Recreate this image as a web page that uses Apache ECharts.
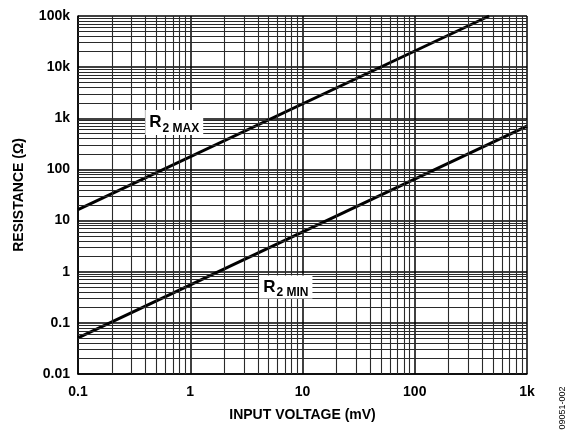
<!DOCTYPE html>
<html>
<head>
<meta charset="utf-8">
<script src="https://cdn.jsdelivr.net/npm/echarts@6/dist/echarts.min.js"></script>
<style>
  html, body { margin: 0; padding: 0; background: #fff; }
  #chart { width: 582px; height: 438px; }
</style>
</head>
<body>
<div id="chart"></div>
<script>
// input voltage (mV) vs resistance (ohm)
var r2MaxPoints = [[0.1, 16.4], [460, 100000]];
var r2MinPoints = [[0.1, 0.051], [1000, 700]];

var xTickLabels = ['0.1', '1', '10', '100', '1k'];
var yTickLabels = ['0.01', '0.1', '1', '10', '100', '1k', '10k', '100k'];

var xDecades = [0.1, 1, 10, 100];
var yDecades = [0.01, 0.1, 1, 10, 100, 1000, 10000];
var minorSteps = [2, 3, 4, 5, 6, 7, 8, 9];

var xMinor = [];
xDecades.forEach(function (d) { minorSteps.forEach(function (m) { xMinor.push(+(d * m).toPrecision(3)); }); });
var yMinor = [];
yDecades.forEach(function (d) { minorSteps.forEach(function (m) { yMinor.push(+(d * m).toPrecision(3)); }); });

var font = 'Liberation Sans, Arial, sans-serif';

function tickLabel(list, first) {
  return function (v) {
    var i = Math.round(Math.log10(v)) - first;
    return list[i] !== undefined ? list[i] : '';
  };
}

var minorLines = xMinor.map(function (v) { return { xAxis: v }; })
  .concat(yMinor.map(function (v) { return { yAxis: v }; }));

// subscript is pushed down with top padding on its token
var labelRich = {
  r: { fontFamily: font, fontWeight: 'bold', fontSize: 17, color: '#000', lineHeight: 17 },
  s: { fontFamily: font, fontWeight: 'bold', fontSize: 12, color: '#000', lineHeight: 12, padding: [12, 0, 0, 1] }
};

var chart = echarts.init(document.getElementById('chart'));
chart.setOption({
  animation: false,
  backgroundColor: '#fff',
  grid: { left: 78, right: 55, top: 16, bottom: 64 },
  xAxis: {
    type: 'log', logBase: 10, min: 0.1, max: 1000, splitNumber: 4,
    name: 'INPUT VOLTAGE (mV)', nameLocation: 'middle', nameGap: 34,
    nameTextStyle: { fontFamily: font, fontWeight: 'bold', fontSize: 14, color: '#000' },
    axisLine: { show: true, lineStyle: { color: '#000', width: 1.5 } },
    axisTick: { show: false },
    axisLabel: { formatter: tickLabel(xTickLabels, -1), fontFamily: font, fontWeight: 'bold', fontSize: 14, color: '#000', margin: 11 },
    splitLine: { show: true, lineStyle: { color: '#000', width: 1.5 } }
  },
  yAxis: {
    type: 'log', logBase: 10, min: 0.01, max: 100000, splitNumber: 7,
    name: 'RESISTANCE (Ω)', nameLocation: 'middle', nameGap: 52, nameRotate: 90,
    nameTextStyle: { fontFamily: font, fontWeight: 'bold', fontSize: 14, color: '#000' },
    axisLine: { show: true, lineStyle: { color: '#000', width: 1.5 } },
    axisTick: { show: false },
    axisLabel: { formatter: tickLabel(yTickLabels, -2), fontFamily: font, fontWeight: 'bold', fontSize: 14, color: '#000', margin: 8 },
    splitLine: { show: true, lineStyle: { color: '#000', width: 1.5 } }
  },
  series: [
    {
      type: 'line', data: [], z: 1, silent: true,
      markLine: {
        silent: true, symbol: 'none', animation: false,
        label: { show: false },
        lineStyle: { color: '#2a2a2a', width: 1.1, type: 'solid' },
        data: minorLines
      }
    },
    {
      name: 'R2 MAX', type: 'line', data: r2MaxPoints, z: 3,
      showSymbol: false, symbol: 'none',
      lineStyle: { color: '#000', width: 3 },
      markPoint: {
        symbol: 'circle', symbolSize: 0,
        data: [{ coord: [0.72, 830] }],
        label: {
          show: true, position: 'inside',
          formatter: '{r|R}{s|2 MAX}',
          backgroundColor: '#fff', padding: [4, 4, 4, 4],
          rich: labelRich
        }
      }
    },
    {
      name: 'R2 MIN', type: 'line', data: r2MinPoints, z: 3,
      showSymbol: false, symbol: 'none',
      lineStyle: { color: '#000', width: 3 },
      markPoint: {
        symbol: 'circle', symbolSize: 0,
        data: [{ coord: [7.1, 0.5] }],
        label: {
          show: true, position: 'inside',
          formatter: '{r|R}{s|2 MIN}',
          backgroundColor: '#fff', padding: [3, 4, 3, 4],
          rich: labelRich
        }
      }
    }
  ],
  graphic: [{
    type: 'text', x: 563, y: 408, rotation: Math.PI / 2,
    style: { text: '09051-002', font: '9px ' + font, fill: '#000', align: 'center', verticalAlign: 'middle' }
  }]
});
</script>
</body>
</html>
